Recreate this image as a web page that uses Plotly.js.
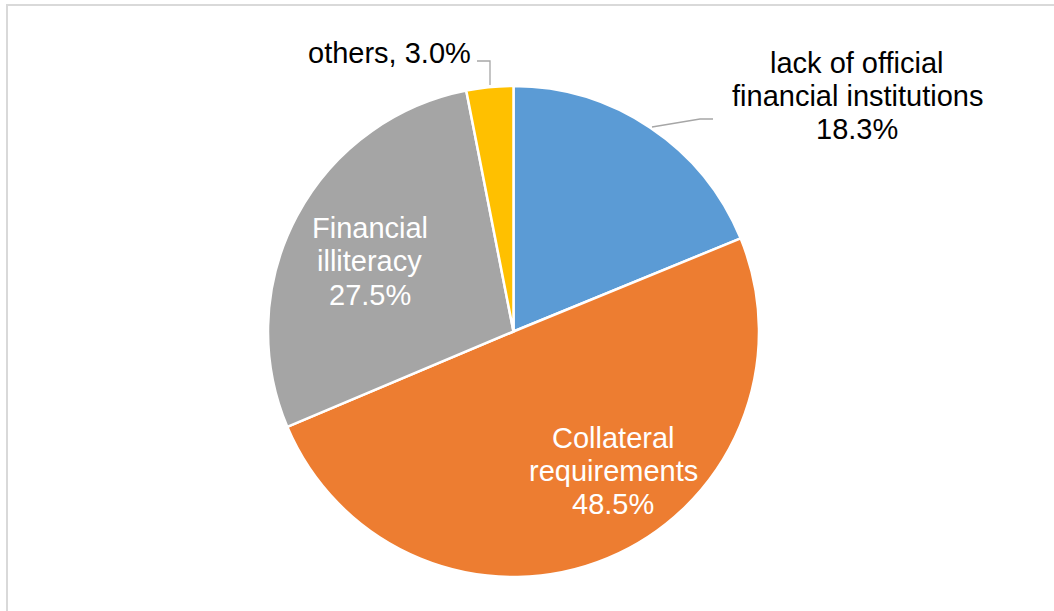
<!DOCTYPE html>
<html>
<head>
<meta charset="utf-8">
<script src="https://cdn.plot.ly/plotly-3.0.1.min.js"></script>
<style>
  html, body { margin: 0; padding: 0; background: #ffffff; }
  #chart { width: 1054px; height: 611px; }
</style>
</head>
<body>
<div id="chart"></div>
<script>
// ---- data ----
const categories = ["lack of official financial institutions", "Collateral requirements", "Financial illiteracy", "others"];
const values = [18.3, 48.5, 27.5, 3.0];
const colors = ["#5B9BD5", "#ED7D31", "#A5A5A5", "#FFC000"];

const W = 1054, H = 611;
const px = x => x / W;
const py = y => 1 - y / H;
const pct = v => v.toFixed(1) + "%";

const FONT = "Liberation Sans, Arial, sans-serif";
const FS = 29;

// label lines (text built from data)
const labelSpecs = [
  { lines: ["lack of official", "financial institutions", pct(values[0])], cx: 857, base: [73, 106, 139], color: "#000000" },
  { lines: ["Collateral", "requirements", pct(values[1])], cx: 613, base: [448, 481, 514], color: "#ffffff" },
  { lines: ["Financial", "illiteracy", pct(values[2])], cx: 370, base: [238, 271, 305], color: "#ffffff" },
  { lines: [categories[3] + ", " + pct(values[3])], cx: 389, base: [63], color: "#000000" }
];

const annotations = [];
labelSpecs.forEach(s => {
  s.lines.forEach((t, i) => {
    annotations.push({
      text: t, xref: "paper", yref: "paper",
      x: px(s.cx), y: py(s.base[i] - 10),
      xanchor: "center", yanchor: "middle",
      showarrow: false,
      font: { family: FONT, size: FS, color: s.color }
    });
  });
});

const shapes = [
  // chart area border (left & top visible)
  { type: "line", xref: "paper", yref: "paper", x0: px(7), x1: px(7), y0: py(4), y1: py(611), line: { color: "#d9d9d9", width: 2 } },
  { type: "line", xref: "paper", yref: "paper", x0: px(6), x1: px(1054), y0: py(5), y1: py(5), line: { color: "#d9d9d9", width: 2 } },
  // leader lines
  { type: "path", xref: "paper", yref: "paper",
    path: `M ${px(652)},${py(127)} L ${px(700)},${py(119)} L ${px(713)},${py(119)}`,
    line: { color: "#a6a6a6", width: 1.3 } },
  { type: "path", xref: "paper", yref: "paper",
    path: `M ${px(477)},${py(61)} L ${px(490)},${py(61)} L ${px(490)},${py(85)}`,
    line: { color: "#a6a6a6", width: 1.3 } }
];

const trace = {
  type: "pie",
  labels: categories,
  values: values,
  sort: false,
  direction: "clockwise",
  rotation: 0,
  marker: { colors: colors, line: { color: "#ffffff", width: 2.5 } },
  textinfo: "none",
  hoverinfo: "label+percent",
  showlegend: false,
  domain: { x: [px(268), px(759)], y: [py(577), py(86)] }
};

const layout = {
  width: W, height: H,
  margin: { l: 0, r: 0, t: 0, b: 0 },
  paper_bgcolor: "#ffffff",
  showlegend: false,
  annotations: annotations,
  shapes: shapes
};

Plotly.newPlot("chart", [trace], layout, { staticPlot: true, displayModeBar: false });
</script>
</body>
</html>
